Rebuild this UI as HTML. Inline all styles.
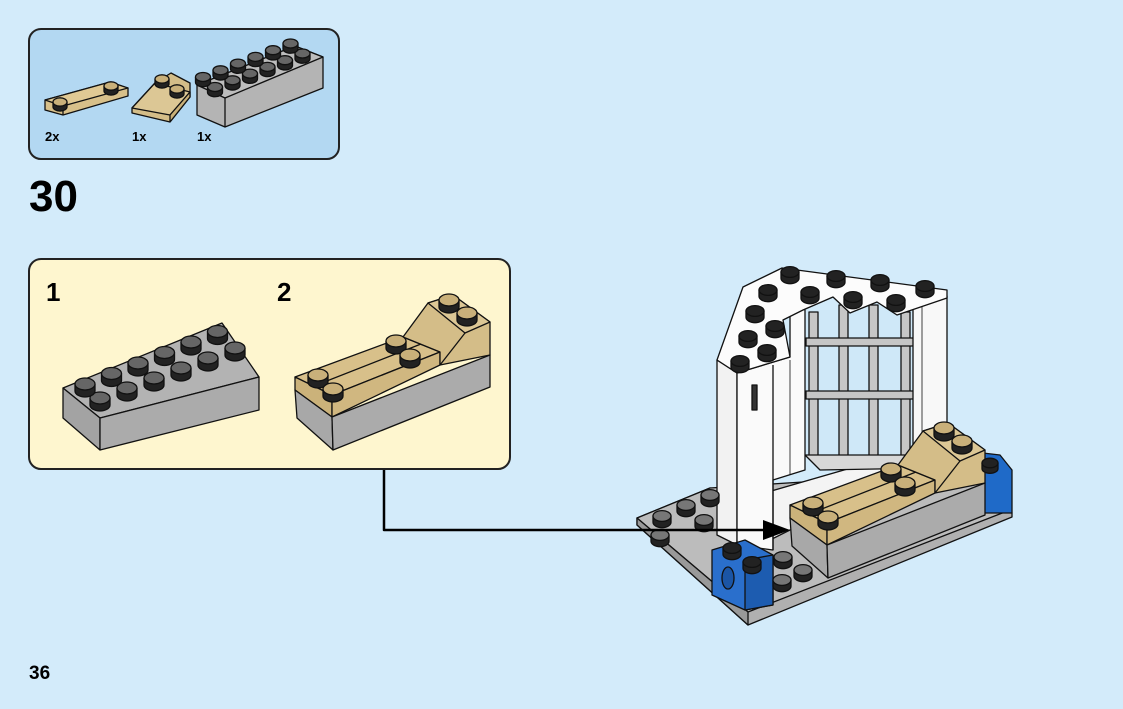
<!DOCTYPE html>
<html><head><meta charset="utf-8"><style>
html,body{margin:0;padding:0;background:#d3ebfa;}
body{width:1123px;height:709px;overflow:hidden;position:relative;font-family:"Liberation Sans",sans-serif;}
.t{position:absolute;font-weight:bold;color:#000;}
</style></head><body>
<svg width="1123" height="709" viewBox="0 0 1123 709" style="position:absolute;left:0;top:0" stroke="#111" stroke-width="1.3" stroke-linejoin="round">
<defs>
<g id="tan">
<polygon points="295,377 403,337 440,352 332,395" fill="#d8c08a"/>
<polygon points="295,377 332,395 332,417 295,390" fill="#cbb27a"/>
<polygon points="332,395 440,352 440,365 332,417" fill="#d0b780"/>
<polygon points="295,390 332,417 333,450 297,418" fill="#a8a8a8"/>
<polygon points="332,417 490,355 490,387 333,450" fill="#ababab"/>
<polygon points="403,337 428,303 453,295 490,322 490,355 440,365 440,352" fill="#d4bd88"/>
<polygon points="428,303 453,295 490,322 465,333" fill="#dcc795"/>
<line x1="465" y1="333" x2="440" y2="365"/>
<line x1="314" y1="386" x2="421" y2="344"/>
</g>
</defs>
<rect x="29" y="29" width="310" height="130" rx="12" fill="#b3d8f2" stroke="#222" stroke-width="2"/>
<rect x="29" y="259" width="481" height="210" rx="12" fill="#fef6cf" stroke="#222" stroke-width="2"/>
<!-- parts -->
<polygon points="45,100 110,82 128,88 128,96 63,115 45,110" fill="#d8c08a"/>
<polygon points="45,100 63,106 128,88 110,82" fill="#e0c994"/>
<line x1="63" y1="106" x2="63" y2="115"/>
<polygon points="132,108 155,83 171,73 190,83 190,97 170,122 132,113" fill="#d4bd88"/>
<polygon points="132,108 155,83 190,92 170,115" fill="#dcc795"/>
<polygon points="170,115 170,122 190,97 190,92" fill="#c9b078"/>
<polygon points="197,85 295,46 323,57 323,88 225,127 197,115" fill="#b4b4b4"/>
<polygon points="197,85 295,46 323,57 225,98" fill="#bdbdbd"/>
<line x1="225" y1="98" x2="225" y2="127"/>
<!-- sub 1 -->
<polygon points="63,388 222,323 259,377 100,418" fill="#b3b3b3"/>
<polygon points="63,388 100,418 100,450 63,418" fill="#a3a3a3"/>
<polygon points="100,418 259,377 259,410 100,450" fill="#ababab"/>
<!-- sub 2 -->
<use href="#tan"/>
<!-- base plate -->
<polygon points="637,518 710,488 1012,513 1012,517 748,625 637,525" fill="#b0b0b0"/>
<polygon points="637,518 710,488 990,470 1010,510 748,612" fill="#bcbcbc"/>
<polygon points="637,518 748,612 748,625 637,525" fill="#999"/>
<!-- white floor -->
<polygon points="740,500 913,450 947,460 947,480 790,530 760,545" fill="#f4f4f4"/>
<!-- window -->
<rect x="805" y="310" width="110" height="148" fill="#cfe8f8" stroke="none"/>
<g fill="#c6c6c6">
<rect x="809" y="312" width="9" height="146"/><rect x="839" y="305" width="9" height="153"/><rect x="869" y="305" width="9" height="153"/><rect x="901" y="312" width="9" height="146"/>
<rect x="806" y="338" width="108" height="8"/><rect x="806" y="391" width="108" height="8"/>
</g>
<polygon points="805,455 915,455 930,468 820,470" fill="#d8d8d8"/>
<!-- right column -->
<polygon points="913,300 947,296 947,430 913,455" fill="#f8f8f8"/>
<line x1="922" y1="300" x2="922" y2="452" stroke-width="0.8"/>
<!-- left column -->
<polygon points="717,360 737,373 737,545 717,535" fill="#f2f2f2"/>
<polygon points="737,373 790,357 790,300 805,310 805,470 773,480 773,550 737,545" fill="#fafafa"/>
<line x1="773" y1="365" x2="773" y2="550"/>
<line x1="790" y1="360" x2="790" y2="475" stroke-width="0.8"/>
<rect x="752" y="385" width="5" height="25" fill="#333"/>
<!-- top plate -->
<polygon points="743,287 782,268 947,290 947,298 897,315 877,302 850,313 833,297 803,310 783,320 790,357 737,373 717,360" fill="#fcfcfc"/>
<!-- tan main -->
<polygon points="983,453 1000,455 1012,470 1012,513 983,513" fill="#1f6ac8"/>
<use href="#tan" transform="translate(495,128)"/>
<!-- blue left -->
<polygon points="712,550 745,540 773,555 773,605 745,610 712,595" fill="#2a6fcc"/>
<polygon points="745,560 773,555 773,605 745,610" fill="#1d5cb0"/>
<ellipse cx="728" cy="578" rx="6" ry="11" fill="#1b55a5"/>
<g id="studs"></g>
<!-- arrow -->
<polyline points="384,470 384,530 768,530" fill="none" stroke="#000" stroke-width="2.5"/>
<polygon points="763,520 790,530 763,540" fill="#000" stroke="none"/>
</svg>
<div class="t" style="left:45px;top:129px;font-size:13px">2x</div>
<div class="t" style="left:132px;top:129px;font-size:13px">1x</div>
<div class="t" style="left:197px;top:129px;font-size:13px">1x</div>
<div class="t" style="left:29px;top:172px;font-size:44px">30</div>
<div class="t" style="left:46px;top:277px;font-size:26px">1</div>
<div class="t" style="left:277px;top:277px;font-size:26px">2</div>
<div class="t" style="left:29px;top:663px;font-size:19px">36</div>
<script>
var g=document.getElementById('studs'),h='';
function st(x,y,r,c){r=r||9;c=c||'#555';var ry=r*0.6;
h+='<path d="M'+(x-r)+','+y+' v'+(r*0.7)+' a'+r+','+ry+' 0 0 0 '+(2*r)+',0 v-'+(r*0.7)+'" fill="#222"/>';
h+='<ellipse cx="'+x+'" cy="'+y+'" rx="'+r+'" ry="'+ry+'" fill="'+c+'"/>';}
function row(x0,y0,dx,dy,n,r,c){for(var i=0;i<n;i++)st(x0+dx*i,y0+dy*i,r,c);}
var T='#c9b07a';
st(60,102,7,T);st(111,86,7,T);
st(162,79,7,T);st(177,89,7,T);
row(215,87,17.5,-6.7,6,7.5,'#666');row(203,77,17.5,-6.7,6,7.5,'#666');
// sub1
row(100,398,27,-10,6,10,'#666');row(85,384,26.5,-10.5,6,10,'#666');
// sub2
function tanstuds(ox,oy){st(449+ox,300+oy,10,T);st(467+ox,313+oy,10,T);st(396+ox,341+oy,10,T);st(410+ox,355+oy,10,T);st(318+ox,375+oy,10,T);st(333+ox,389+oy,10,T);}
tanstuds(0,0);
// white top plate studs
[[790,272],[836,276],[880,280],[925,286],[768,290],[810,292],[853,297],[896,300],[755,311],[775,326],[748,336],[767,350],[740,361]].forEach(function(p){st(p[0],p[1],9,'#222');});
// grey plate studs
[[662,516],[686,505],[710,495],[704,520],[660,535],[783,557],[803,570],[782,580]].forEach(function(p){st(p[0],p[1],9,'#777');});
tanstuds(495,128);
st(732,548,9,'#222');st(752,562,9,'#222');st(990,463,8,'#222');
g.innerHTML=h;
</script>
</body></html>
